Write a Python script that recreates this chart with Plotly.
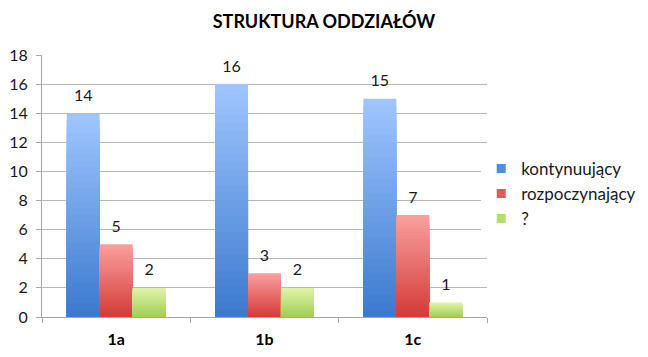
import plotly.graph_objects as go

categories = ["1a", "1b", "1c"]
series_names = ["kontynuujący", "rozpoczynający", "?"]
kontynuujacy = [14, 16, 15]
rozpoczynajacy = [5, 3, 7]
nieznane = [2, 2, 1]
y_ticks = [0, 2, 4, 6, 8, 10, 12, 14, 16, 18]

series_values = [kontynuujacy, rozpoczynajacy, nieznane]
top_colors = [(160, 198, 255), (250, 160, 158), (226, 244, 170)]
bottom_colors = [(59, 121, 206), (212, 58, 56), (160, 206, 84)]
legend_colors = ["#4f8ddf", "#e05a58", "#b5dc6e"]
offsets = [-1/3, -1/9, 1/9]
bar_w = 2/9
N = 30

def mix(c1, c2, t):
    return "rgb(%d,%d,%d)" % tuple(round(a + (b - a) * t) for a, b in zip(c1, c2))

fig = go.Figure()
for s, vals in enumerate(series_values):
    for k in range(N):
        frac_h = (N - k) / N
        t = 1 - (N - k - 0.5) / N  # 0 at top, 1 at bottom
        fig.add_trace(go.Bar(
            x=categories,
            y=[v * frac_h for v in vals],
            offset=offsets[s], width=bar_w,
            marker=dict(color=mix(top_colors[s], bottom_colors[s], t), line=dict(width=0)),
            showlegend=False, hoverinfo="skip",
        ))
    # value labels on an overlaid numeric axis aligned with the category axis
    fig.add_trace(go.Scatter(
        x=[i + offsets[s] + bar_w / 2 for i in range(len(categories))],
        y=vals, xaxis="x2", mode="markers+text",
        marker=dict(size=12, opacity=0),
        text=[str(v) for v in vals], textposition="top center",
        textfont=dict(size=16, color="#1a1a1a", family="Lato"),
        cliponaxis=False, showlegend=False, hoverinfo="skip",
    ))

for s, name in enumerate(series_names):
    fig.add_trace(go.Scatter(
        x=[None], y=[None], name=name, mode="markers", legendgroup=name,
        marker=dict(color=legend_colors[s], symbol="square", size=9),
        showlegend=True, hoverinfo="skip",
    ))

fig.update_layout(
    width=648, height=357,
    margin=dict(l=42, r=161, t=55, b=40, autoexpand=False),
    paper_bgcolor="white", plot_bgcolor="white",
    barmode="overlay",
    font=dict(family="Lato", size=16, color="#1a1a1a"),
    title=dict(text="<b>STRUKTURA ODDZIAŁÓW</b>", x=0.5, xanchor="center",
               y=0.94, yanchor="middle", font=dict(size=18, family="Lato", color="#000")),
    legend=dict(x=0.987, y=0.47, xanchor="left", yanchor="middle",
                font=dict(size=17, family="Lato", color="#1a1a1a"),
                tracegroupgap=14, itemwidth=30, traceorder="normal"),
    showlegend=True,
    xaxis=dict(
        type="category", showline=True, linecolor="#a6a6a6", linewidth=1,
        ticks="outside", tickson="boundaries", ticklen=5, tickcolor="#a6a6a6",
        tickfont=dict(size=16, family="Lato", color="#000"),
        ticktext=["<b>%s</b>" % c for c in categories], tickvals=categories,
        ticklabelstandoff=8, automargin=False,
        showgrid=False, range=[-0.5, 2.5],
    ),
    xaxis2=dict(overlaying="x", range=[-0.5, 2.5], visible=False, fixedrange=True),
    yaxis=dict(
        range=[0, 18], tickvals=y_ticks, showgrid=True, gridcolor="#b8b8b8", gridwidth=1,
        showline=True, linecolor="#a6a6a6", ticks="outside", ticklen=5, tickcolor="#a6a6a6",
        tickfont=dict(size=16, family="Lato", color="#1a1a1a"), zeroline=False,
        ticklabelstandoff=5, automargin=False,
    ),
)

fig.write_html("out.html")
